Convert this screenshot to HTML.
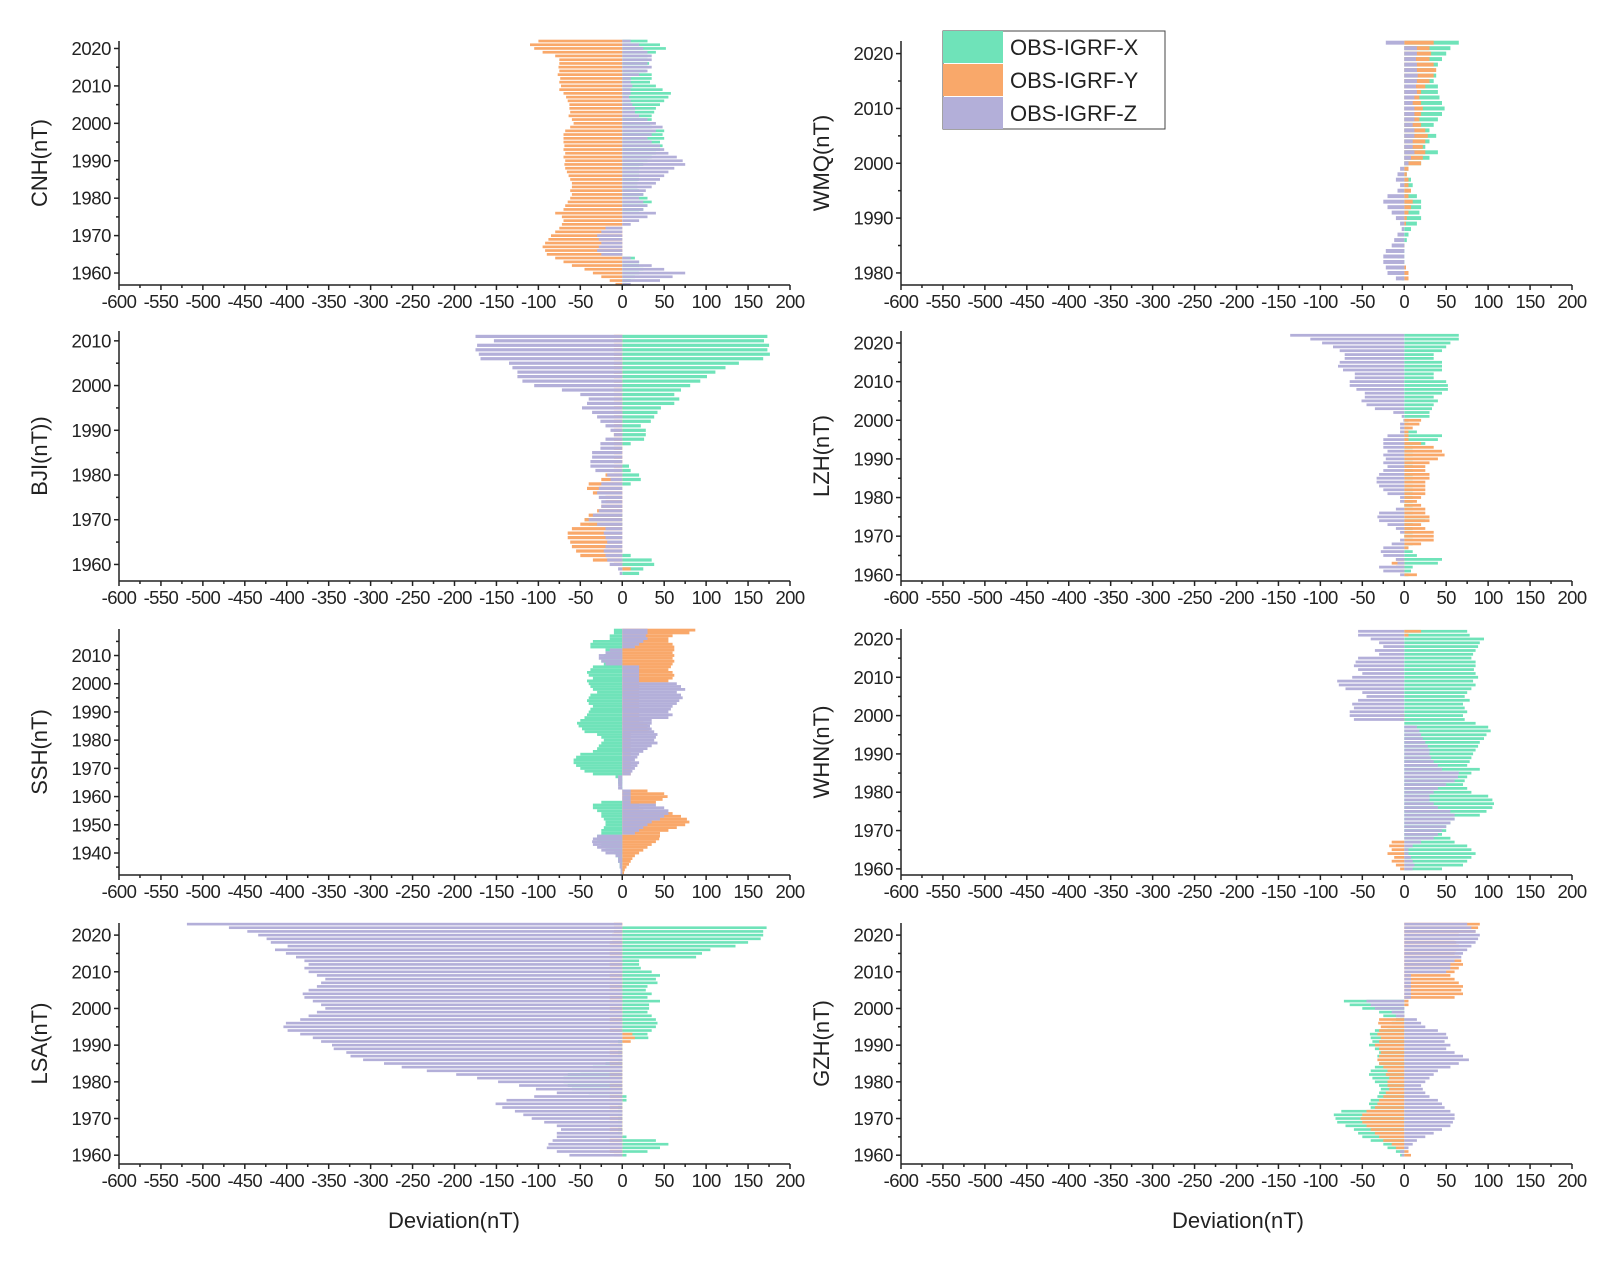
<!DOCTYPE html>
<html><head><meta charset="utf-8">
<style>
html,body{margin:0;padding:0;background:#fff;}
svg{display:block;font-family:"Liberation Sans",Arial,sans-serif;}
</style></head>
<body>
<svg id="chart" width="1613" height="1261" viewBox="0 0 1613 1261" xmlns="http://www.w3.org/2000/svg">
<g id="panels"></g>
<g>
  <rect x="943" y="31" width="222" height="98" fill="#fff" stroke="#444" stroke-width="1"/>
  <rect x="943" y="31" width="60" height="32" fill="#6fe3b9"/>
  <rect x="943" y="64" width="60" height="32" fill="#f9a86a"/>
  <rect x="943" y="97" width="60" height="32" fill="#b3afd9"/>
  <text x="1010" y="55" font-size="22" fill="#222">OBS-IGRF-X</text>
  <text x="1010" y="88" font-size="22" fill="#222">OBS-IGRF-Y</text>
  <text x="1010" y="121" font-size="22" fill="#222">OBS-IGRF-Z</text>
</g>
<text x="454" y="1228" font-size="22" text-anchor="middle" fill="#222">Deviation(nT)</text>
<text x="1238" y="1228" font-size="22" text-anchor="middle" fill="#222">Deviation(nT)</text>
</svg>
<script>
// x tick labels
const xTicks = [-600,-550,-500,-450,-400,-350,-300,-250,-200,-150,-100,-50,0,50,100,150,200];
const seriesNames = ["X","Y","Z"];
const seriesColors = ["#6fe3b9","#f9a86a","#b3afd9"];

// CNH 2022 -> 1957
const cnhTop = 2022;
const cnhX = [30,45,52,40,30,30,32,30,28,35,35,33,40,48,58,55,50,45,40,38,35,35,33,35,50,48,50,45,48,45,40,35,30,25,20,20,20,20,18,18,20,25,30,35,30,25,20,0,0,0,0,0,0,0,0,0,0,0,15,20,20,25,20,15,10,5];
const cnhY = [-100,-110,-105,-95,-80,-75,-75,-76,-75,-77,-74,-75,-73,-75,-70,-67,-65,-63,-63,-62,-64,-60,-58,-62,-68,-70,-70,-70,-69,-70,-68,-70,-68,-69,-68,-66,-64,-62,-60,-60,-62,-60,-62,-65,-68,-70,-80,-72,-70,-72,-75,-80,-85,-88,-92,-95,-92,-90,-80,-70,-60,-45,-35,-25,-15,-8];
const cnhZ = [10,20,25,30,35,35,30,35,30,20,10,10,12,10,10,8,10,12,15,15,20,30,40,48,40,35,30,35,45,50,55,65,72,75,62,55,50,45,40,35,28,25,20,25,30,25,40,30,20,10,-20,-25,-30,-28,-25,-28,-30,-25,10,20,35,50,75,60,45,10];

// WMQ 2022 -> 1979
const wmqTop = 2022;
const wmqX = [65,55,50,45,40,35,38,35,40,40,42,45,48,45,40,35,30,38,30,25,40,30,20,5,3,8,10,5,15,20,20,18,20,15,8,5,3,-5,-5,-8,-5,-10,-8,-3];
const wmqY = [35,30,32,30,35,38,35,30,25,20,18,20,22,20,18,20,25,28,25,22,25,22,20,5,3,5,5,8,5,10,8,5,3,2,0,0,0,-2,0,0,0,2,5,5];
const wmqZ = [-22,15,15,14,15,15,16,15,14,15,12,10,12,12,12,10,12,12,10,10,12,8,5,-5,-8,-10,-5,-8,-20,-25,-20,-15,-10,-5,-3,-8,-12,-15,-22,-25,-25,-22,-20,-10];

// BJI 2011 -> 1958
const bjiTop = 2011;
const bjiX = [173,169,175,173,176,168,139,123,111,101,93,81,70,62,68,62,46,42,38,34,22,28,28,26,10,0,0,0,0,8,10,20,22,10,0,0,0,0,0,0,-35,-45,-40,0,0,0,0,0,0,10,35,38,25,20];
const bjiY = [-10,-10,-10,-10,-10,-10,-10,-10,-10,-10,-10,-10,-10,-10,-10,-10,-10,-10,-10,-10,-10,-10,-10,-10,-10,-10,-10,-10,-10,-10,-10,-20,-25,-40,-42,-35,-20,-20,-25,-30,-40,-45,-50,-60,-65,-65,-62,-60,-55,-50,-35,-10,10,0];
const bjiZ = [-175,-153,-173,-175,-171,-169,-135,-131,-125,-125,-119,-105,-72,-50,-40,-42,-48,-36,-30,-26,-20,-14,-10,-20,-26,-26,-36,-36,-38,-38,-32,-18,-14,-25,-28,-30,-28,-25,-25,-28,-35,-40,-30,-20,-22,-20,-18,-20,-22,-20,-18,-15,-5,-3];

// LZH 2022 -> 1960
const lzhTop = 2022;
const lzhX = [65,65,55,50,45,35,35,45,45,45,35,35,50,52,52,45,35,40,35,33,30,30,5,5,5,15,45,40,25,10,10,10,10,10,10,10,10,10,10,10,10,10,10,10,10,10,10,30,25,10,10,10,10,10,10,5,10,15,45,40,10,8,5];
const lzhY = [0,0,0,0,0,0,0,0,0,0,0,0,0,0,0,0,0,0,0,0,0,0,20,18,10,5,5,5,20,35,45,48,40,30,25,25,30,30,25,25,25,25,20,15,20,25,25,30,30,20,25,35,35,35,20,5,0,0,-10,-15,-10,-5,15];
const lzhZ = [-136,-112,-98,-85,-77,-71,-71,-77,-79,-73,-59,-59,-65,-65,-57,-47,-47,-51,-45,-35,-13,-3,-1,-5,-5,-5,-20,-25,-25,-25,-20,-25,-22,-25,-20,-25,-30,-33,-33,-30,-25,-20,-5,-5,0,-10,-30,-32,-30,-20,-10,-5,0,-5,-15,-25,-28,-25,-10,-8,-30,-25,-5];

// SSH 2019 -> 1933
const sshTop = 2019;
const sshX = [-10,-10,-15,-15,-35,-38,-38,-20,-20,-22,-25,-25,-22,-35,-38,-42,-40,-35,-42,-40,-38,-35,-30,-38,-40,-42,-40,-35,-38,-40,-42,-45,-50,-54,-52,-48,-45,-30,-25,-22,-25,-28,-30,-35,-50,-55,-58,-58,-55,-50,-45,-35,-8,-5,-5,-3,-2,0,0,0,0,-25,-35,-35,-30,-25,-25,-22,-20,-20,-22,-25,-25,-30,-30,-28,-25,-20,-15,-10,-8,-5,-5,-3,-3,-2,-2];
const sshY = [87,80,60,55,55,60,62,62,60,62,60,62,60,58,55,60,62,60,55,20,20,20,20,20,20,20,20,20,20,20,20,20,20,25,30,32,30,10,10,10,10,10,10,10,10,10,10,10,10,10,10,10,0,0,0,0,0,30,50,54,48,40,20,20,25,60,70,77,80,75,65,55,45,45,44,40,35,30,25,20,15,12,10,8,5,3,2];
const sshZ = [30,30,28,30,25,20,15,-15,-20,-28,-28,-25,-20,20,20,20,20,20,20,65,70,75,65,70,72,68,65,60,58,55,60,55,35,35,33,35,38,42,40,38,42,35,30,25,20,18,15,20,18,15,12,10,-5,-5,-5,-5,-5,10,10,10,10,10,40,50,55,55,50,45,35,30,25,20,15,-30,-35,-36,-35,-30,-25,-20,-8,-5,-5,-3,-3,-2,-2];

// WHN 2022 -> 1960
const whnTop = 2022;
const whnX = [75,78,95,90,88,85,82,80,85,85,83,85,88,82,85,80,75,72,78,70,72,75,70,72,85,100,103,98,95,90,88,85,82,80,78,75,90,80,75,72,70,75,80,100,105,107,105,98,90,60,55,50,50,45,55,60,75,80,85,80,75,70,45];
const whnY = [20,5,0,0,0,0,0,0,0,0,0,0,0,0,0,0,0,0,0,0,0,0,-5,-5,0,0,0,0,0,0,0,0,0,0,0,0,0,0,0,0,0,0,0,0,0,0,0,0,0,0,0,0,0,0,0,-15,-18,-15,-20,-12,-15,-10,-5];
const whnZ = [-55,-55,-40,-30,-25,-35,-30,-55,-58,-60,-55,-50,-62,-80,-78,-70,-50,-45,-55,-62,-60,-65,-65,-60,0,15,18,20,22,25,28,30,30,32,35,40,45,65,64,60,50,40,35,30,30,35,40,55,60,60,55,50,45,40,35,20,10,5,5,8,10,12,10];

// LSA 2023 -> 1960
const lsaTop = 2023;
const lsaX = [0,172,168,168,165,150,135,105,95,88,20,20,22,35,45,40,42,30,28,35,30,45,32,32,30,35,40,42,40,35,30,31,-5,-5,-5,-5,-5,-5,-20,-35,-50,-65,-70,-70,-65,-60,-40,5,5,-5,-5,-5,-5,-5,-5,-5,-5,-5,5,40,55,45,30,5];
const lsaY = [-10,-10,-10,-12,-12,-15,-15,-15,-15,-15,-15,-15,-15,-15,-15,-15,-15,-15,-15,-15,-15,-15,-15,-15,-15,-15,-15,-15,-15,-15,12,15,10,-15,-15,-15,-15,-15,-15,-15,-15,-15,-15,-15,-15,-15,-15,-15,-15,-15,-15,-15,-15,-15,-15,-15,-15,-15,-15,-15,-15,-15,-15,-10];
const lsaZ = [-519,-469,-447,-434,-424,-419,-399,-414,-401,-389,-379,-374,-379,-374,-364,-354,-359,-364,-374,-381,-379,-369,-359,-354,-364,-374,-384,-401,-404,-399,-384,-369,-359,-346,-344,-329,-324,-309,-284,-263,-233,-198,-173,-148,-123,-103,-78,-105,-138,-151,-143,-128,-118,-108,-93,-78,-73,-78,-78,-83,-88,-90,-78,-63];

// GZH 2023 -> 1960
const gzhTop = 2023;
const gzhX = [0,0,0,0,0,0,0,0,0,0,0,0,0,0,0,0,0,0,0,0,0,-72,-65,-50,-30,-25,-10,-15,-20,-35,-41,-40,-38,-42,-35,-30,-32,-28,-30,-35,-40,-42,-38,-35,-30,-28,-30,-32,-40,-42,-40,-75,-84,-82,-80,-70,-60,-55,-50,-40,-25,-20,-10,-5];
const gzhY = [90,88,85,65,60,62,65,62,60,65,68,70,65,60,55,60,65,70,68,70,60,5,5,0,0,-5,-30,-31,-28,-30,-32,-28,-30,-35,-30,-28,-30,-32,-30,-25,-20,-22,-18,-20,-20,-18,-22,-25,-30,-32,-35,-45,-50,-52,-50,-45,-40,-35,-30,-25,-15,-10,5,8];
const gzhZ = [75,80,85,90,88,85,80,75,70,68,60,55,55,50,8,8,8,8,8,8,8,-45,-40,-35,-15,-10,15,20,25,40,50,52,48,55,50,60,70,77,65,55,40,35,30,25,20,22,25,30,40,45,48,55,60,60,58,55,45,35,25,15,10,5,-5,-3];

const yTickYears = {
  CNH:[1960,1970,1980,1990,2000,2010,2020],
  WMQ:[1980,1990,2000,2010,2020],
  BJI:[1960,1970,1980,1990,2000,2010],
  LZH:[1960,1970,1980,1990,2000,2010,2020],
  SSH:[1940,1950,1960,1970,1980,1990,2000,2010],
  WHN:[1960,1970,1980,1990,2000,2010,2020],
  LSA:[1960,1970,1980,1990,2000,2010,2020],
  GZH:[1960,1970,1980,1990,2000,2010,2020]
};

const panels = [
 {id:"CNH",title:"CNH(nT)",L:119,R:790,T:41,B:285,yMax:2022.0,yMin:1956.8,top:cnhTop,s:[cnhX,cnhY,cnhZ]},
 {id:"WMQ",title:"WMQ(nT)",L:901,R:1572,T:41,B:285,yMax:2022.3,yMin:1977.8,top:wmqTop,s:[wmqX,wmqY,wmqZ]},
 {id:"BJI",title:"BJI(nT))",L:119,R:790,T:331,B:581,yMax:2012.2,yMin:1956.3,top:bjiTop,s:[bjiX,bjiY,bjiZ]},
 {id:"LZH",title:"LZH(nT)",L:901,R:1572,T:331,B:581,yMax:2023.1,yMin:1958.4,top:lzhTop,s:[lzhX,lzhY,lzhZ]},
 {id:"SSH",title:"SSH(nT)",L:119,R:790,T:629,B:875,yMax:2019.4,yMin:1932.2,top:sshTop,s:[sshX,sshY,sshZ]},
 {id:"WHN",title:"WHN(nT)",L:901,R:1572,T:629,B:875,yMax:2022.6,yMin:1958.4,top:whnTop,s:[whnX,whnY,whnZ]},
 {id:"LSA",title:"LSA(nT)",L:119,R:790,T:923,B:1164,yMax:2023.3,yMin:1957.6,top:lsaTop,s:[lsaX,lsaY,lsaZ]},
 {id:"GZH",title:"GZH(nT)",L:901,R:1572,T:923,B:1164,yMax:2023.3,yMin:1957.6,top:gzhTop,s:[gzhX,gzhY,gzhZ]}
];

const NS="http://www.w3.org/2000/svg";
const root=document.getElementById("panels");
function mk(tag,attrs,parent){const e=document.createElementNS(NS,tag);for(const k in attrs)e.setAttribute(k,attrs[k]);parent.appendChild(e);return e;}

panels.forEach(p=>{
  const g=mk("g",{},root);
  
  
  const xS=v=>p.L+(v+600)/800*(p.R-p.L);
  const yS=yr=>p.T+(p.yMax-yr)/(p.yMax-p.yMin)*(p.B-p.T);
  const ppy=(p.B-p.T)/(p.yMax-p.yMin);
  const bh=ppy>3.2?ppy*0.72:ppy;
  p.s.forEach((arr,si)=>{
    const sg=mk("g",{fill:seriesColors[si]},g);
    
    
    arr.forEach((v,i)=>{
      const yr=p.top-i;
      const x0=xS(0),x1=xS(v);
      const r=mk("rect",{x:Math.min(x0,x1).toFixed(1),y:(yS(yr)-bh/2).toFixed(1),width:Math.abs(x1-x0).toFixed(1),height:bh.toFixed(2)},sg);
      
      
    });
  });
  const ax=mk("g",{stroke:"#222","stroke-width":1.5},g);
  
  
  mk("line",{x1:p.L,y1:p.T,x2:p.L,y2:p.B},ax);
  mk("line",{x1:p.L,y1:p.B,x2:p.R,y2:p.B},ax);
  for(let v=-600;v<=200;v+=25){
    const major=v%50===0;
    mk("line",{x1:xS(v),y1:p.B,x2:xS(v),y2:p.B+(major?5:3)},ax);
  }
  xTicks.forEach(v=>{
    const t=mk("text",{x:xS(v),y:p.B+23,"font-size":18.5,"text-anchor":"middle",fill:"#222","letter-spacing":"-0.6"},g);
    t.textContent=String(v);
    
    
  });
  for(let yr=Math.ceil(p.yMin/5)*5;yr<=p.yMax;yr+=5){
    const major=yr%10===0;
    mk("line",{x1:p.L,y1:yS(yr),x2:p.L-(major?5:3),y2:yS(yr)},ax);
  }
  yTickYears[p.id].forEach(yr=>{
    const t=mk("text",{x:p.L-8,y:yS(yr)+6.5,"font-size":18.5,"text-anchor":"end",fill:"#222","letter-spacing":"-0.4"},g);
    t.textContent=String(yr);
    
    
  });
  const tx=p.L-72, ty=(p.T+p.B)/2;
  const tt=mk("text",{x:tx,y:ty,"font-size":22,"text-anchor":"middle",fill:"#222",transform:`rotate(-90 ${tx} ${ty})`},g);
  tt.textContent=p.title;
  
  
});
</script>
</body></html>
